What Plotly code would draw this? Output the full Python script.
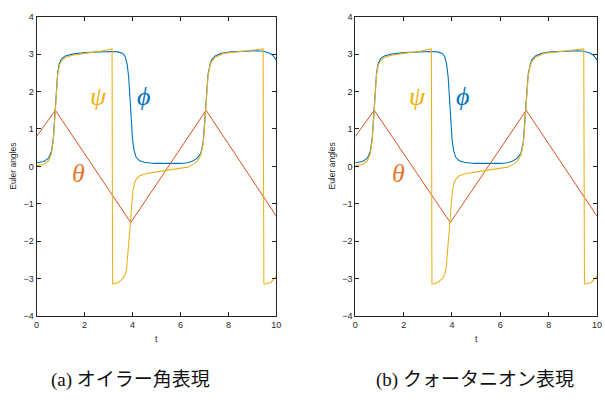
import plotly.graph_objects as go

# ---- data ----
t_phi = [0, 0.3, 0.5, 0.62, 0.7, 0.75, 0.79, 0.83, 0.88, 0.95, 1.05, 1.2, 1.5, 2.0, 2.6, 3.1, 3.4, 3.6,
         3.7, 3.78, 3.84, 3.88, 3.92, 3.96, 4.0, 4.06, 4.15, 4.3, 4.5, 4.9, 5.5, 6.0, 6.3, 6.5, 6.7,
         6.85, 6.95, 7.0, 7.05, 7.1, 7.15, 7.22, 7.3, 7.45, 7.7, 8.1, 8.7, 9.2, 9.5, 9.7, 9.85, 10]
phi = [0.1, 0.13, 0.22, 0.4, 0.75, 1.2, 1.6, 2.1, 2.5, 2.75, 2.88, 2.95, 3.0, 3.04, 3.06, 3.07, 3.06, 3.02,
       2.93, 2.72, 2.4, 2.0, 1.55, 1.1, 0.75, 0.45, 0.25, 0.15, 0.11, 0.08, 0.07, 0.08, 0.1, 0.14, 0.22,
       0.35, 0.65, 1.1, 1.6, 2.1, 2.45, 2.68, 2.85, 2.95, 3.02, 3.06, 3.08, 3.09, 3.07, 3.03, 2.97, 2.84]

t_theta = [0, 0.785, 3.93, 7.07, 10]
theta = [0.8, 1.5, -1.5, 1.5, -1.33]

t_psi = [0, 0.3, 0.5, 0.62, 0.7, 0.75, 0.79, 0.83, 0.88, 0.95, 1.05, 1.2, 1.5, 2.0, 2.6, 3.15,
         3.17, 3.22, 3.4, 3.6, 3.7, 3.76, 3.82, 3.87, 3.92, 3.97, 4.02, 4.08, 4.16, 4.3, 4.6, 4.9,
         5.5, 6.0, 6.3, 6.55, 6.7, 6.85, 6.95, 7.0, 7.05, 7.1, 7.15, 7.22, 7.3, 7.45, 7.8, 8.5, 9.0,
         9.45, 9.48, 9.55, 9.77, 10]
psi = [0.02, 0.05, 0.15, 0.33, 0.7, 1.15, 1.6, 2.1, 2.45, 2.7, 2.83, 2.91, 2.97, 3.02, 3.07, 3.14,
       -3.14, -3.14, -3.10, -3.0, -2.88, -2.7, -2.3, -1.9, -1.45, -1.0, -0.65, -0.45, -0.34, -0.25, -0.19, -0.16,
       -0.1, -0.05, -0.02, 0.06, 0.15, 0.3, 0.6, 1.0, 1.5, 2.0, 2.4, 2.65, 2.8, 2.92, 3.02, 3.07, 3.1,
       3.14, -3.14, -3.14, -3.10, -2.93]

x_ticks = [0, 2, 4, 6, 8, 10]
y_ticks = [-4, -3, -2, -1, 0, 1, 2, 3, 4]
captions = ["(a) オイラー角表現", "(b) クォータニオン表現"]
x_title = "t"
y_title = "Euler angles"

BLUE = "#0072BD"
ORANGE = "#D95319"
YELLOW = "#EDB120"
AX = "#262626"

fig = go.Figure()

W, H = 605, 405
panels = [(34, 277), (357, 602)]
top_px, bot_px = 12, 319

for i, (xl, xr) in enumerate(panels):
    sx = "" if i == 0 else str(i + 1)
    xa, ya = "x" + sx, "y" + sx
    fig.add_trace(go.Scatter(x=t_phi, y=phi, mode="lines", line=dict(color=BLUE, width=1.1),
                             xaxis=xa, yaxis=ya, showlegend=False))
    fig.add_trace(go.Scatter(x=t_theta, y=theta, mode="lines", line=dict(color=ORANGE, width=1.0),
                             xaxis=xa, yaxis=ya, showlegend=False))
    fig.add_trace(go.Scatter(x=t_psi, y=psi, mode="lines", line=dict(color=YELLOW, width=1.1),
                             xaxis=xa, yaxis=ya, showlegend=False))
    axcommon = dict(showgrid=False, zeroline=False, showline=True, linecolor=AX, linewidth=1,
                    mirror="ticks", ticks="inside", ticklen=4, tickcolor=AX, tickwidth=1,
                    tickfont=dict(family="Liberation Sans, Arial", size=9, color=AX))
    fig.layout["xaxis" + sx] = dict(domain=[xl / W, xr / W], range=[0, 10], tickvals=x_ticks,
                                    anchor=ya, **axcommon)
    fig.layout["yaxis" + sx] = dict(domain=[1 - bot_px / H, 1 - top_px / H], range=[-4, 4],
                                    tickvals=y_ticks, anchor=xa, **axcommon)
    # axis titles
    fig.add_annotation(x=(xl + xr) / 2 / W, y=1 - 342 / H, xref="paper", yref="paper",
                       xanchor="center", yanchor="middle",
                       text=x_title, showarrow=False, font=dict(family="Liberation Sans, Arial", size=9, color=AX))
    fig.add_annotation(x=(xl - 24) / W, y=1 - 165 / H, xref="paper", yref="paper",
                       xanchor="center", yanchor="middle",
                       text=y_title, textangle=-90, showarrow=False,
                       font=dict(family="Liberation Sans, Arial", size=8.5, color=AX))
    # greek labels
    gfont = "Liberation Serif, DejaVu Serif, serif"
    fig.add_annotation(x=2.59, y=1.87, xref=xa, yref=ya, text="<i>ψ</i>", showarrow=False,
                       xanchor="center", yanchor="middle",
                       font=dict(family=gfont, size=26, color="#F0B000"))
    fig.add_annotation(x=4.44, y=1.87, xref=xa, yref=ya, text="<i>ϕ</i>", showarrow=False,
                       xanchor="center", yanchor="middle",
                       font=dict(family=gfont, size=26, color=BLUE))
    fig.add_annotation(x=1.77, y=-0.18, xref=xa, yref=ya, text="<i>θ</i>", showarrow=False,
                       xanchor="center", yanchor="middle",
                       font=dict(family=gfont, size=26, color="#E8772E"))

# captions
cap_x = [129, 478]
for cx, cap in zip(cap_x, captions):
    fig.add_annotation(x=cx / W, y=1 - 385 / H, xref="paper", yref="paper", text=cap,
                       xanchor="center", yanchor="middle", showarrow=False,
                       font=dict(family="Liberation Serif, Noto Sans CJK JP", size=19, color="#111111"))

fig.update_layout(width=W, height=H, margin=dict(l=0, r=0, t=0, b=0),
                  paper_bgcolor="white", plot_bgcolor="white")

fig.write_html("out.html")
